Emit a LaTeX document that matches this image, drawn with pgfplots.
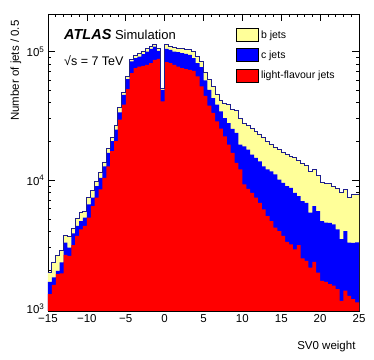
\documentclass[border=0pt]{standalone}
\usepackage{fontspec}
\setmainfont{Liberation Sans}
\usepackage{pgfplots}
\usepackage{pgfplotstable}
\pgfplotsset{compat=1.18}

\definecolor{byellow}{RGB}{255,255,153}
\definecolor{cblue}{RGB}{0,0,255}
\definecolor{lred}{RGB}{255,0,0}
\definecolor{outl}{RGB}{30,30,140}

% cumulative stack: light, light+c, light+c+b (last row repeats the last bin)
\pgfplotstableread{
x     light  lc     total
-15.0 1300   1620   1910
-14.5 1530   1750   2290
-14.0 1860   1970   2580
-13.5 1880   2290   2820
-13.0 2620   3270   3680
-12.5 2580   2990   3660
-12.0 3120   3860   4220
-11.5 3680   4400   5010
-11.0 4150   4810   5580
-10.5 4400   5110   5750
-10.0 5110   6480   7300
-9.5  6290   7300   8320
-9.0  7300   8980   9820
-8.5  8470   10400  11400
-8.0  10400  12800  13800
-7.5  12800  16300  17500
-7.0  16800  20100  21300
-6.5  20100  24700  26700
-6.0  29500  33700  36400
-5.5  38600  46100  48400
-5.0  51000  61000  64000
-4.5  67900  83700  86200
-4.0  74300  88800  93100
-3.5  76500  91500  95900
-3.0  77400  95300  100000
-2.5  78800  100000 104900
-2.0  81200  104900 109300
-1.5  86200  109300 114000
-1.0  87700  101200 106100
-0.5  41000  50400  52000
0.0   82700  104900 112600
0.5   81200  103000 109300
1.0   78800  100000 107400
1.5   76500  98800  106100
2.0   74300  97100  104900
2.5   72900  95900  104500
3.0   72100  94200  103000
3.5   70800  88800  100000
4.0   64000  81200  91500
4.5   53500  75600  83700
5.0   45300  59600  69100
5.5   37900  50400  60300
6.0   33300  43500  53500
6.5   28700  38600  46700
7.0   25100  34300  41500
7.5   21900  30400  39800
8.0   18900  27800  38600
8.5   16300  25000  35300
9.0   13600  23300  34900
9.5   12100  18900  29900
10.0  9260   18300  27800
10.5  8570   17300  26700
11.0  7970   15800  25000
11.5  7300   14900  24000
12.0  6670   14000  22600
12.5  5920   12800  21300
13.0  5260   12100  20100
13.5  4810   11700  18900
14.0  4270   11100  18000
14.5  4020   10100  17300
15.0  3680   9530   16500
15.5  3310   8980   15800
16.0  3170   8720   15300
16.5  2900   7970   14900
17.0  3120   7520   14300
17.5  2460   6880   13500
18.0  2360   6670   13000
18.5  2090   5580   11700
19.0  2310   6290   12100
19.5  1910   5750   10900
20.0  1650   4810   9530
20.5  1620   4670   9420
21.0  1550   4650   9400
21.5  1510   4530   8980
22.0  1420   4150   8570
22.5  1150   3470   7970
23.0  1380   4020   8470
23.5  1260   3270   7300
24.0  1190   3250   7740
24.5  1120   3280   7700
25.0  1120   3280   7700
}\svzero

\begin{document}
\begin{tikzpicture}
\useasboundingbox (-48pt,-48pt) rectangle (326pt,311pt);
\begin{axis}[
    name=ax, at={(0,0)}, anchor=south west,
    scale only axis, width=311pt, height=297pt,
    xmin=-15, xmax=25,
    ymode=log, ymin=960, ymax=1.96e5,
    xtick={-15,-10,-5,0,5,10,15,20,25},
    xticklabels={−15,−10,−5,0,5,10,15,20,25},
    minor x tick num=4,
    ytick={1000,10000,100000},
    yticklabels={10\textsuperscript{3},10\textsuperscript{4},10\textsuperscript{5}},
    minor ytick={2000,3000,4000,5000,6000,7000,8000,9000,20000,30000,40000,50000,60000,70000,80000,90000},
    tick align=inside,
    major tick length=7pt, minor tick length=3.5pt,
    every tick/.style={black, line width=0.6pt},
    axis line style={line width=0.8pt},
    ticklabel style={font=\fontsize{11.5}{13}\selectfont},
    xlabel={SV0 weight},
    ylabel={Number of jets / 0.5},
    label style={font=\fontsize{11.5}{13}\selectfont},
    xlabel style={at={(axis description cs:1,-0.118)}, anchor=east},
    ylabel style={at={(axis description cs:-0.103,0.99)}, anchor=east},
    legend image code/.code={\draw[#1, line width=0.8pt] (0pt,-6.5pt) rectangle (22pt,6.5pt);},
    legend style={at={(axis description cs:0.6045,0.953)}, anchor=north west,
        draw=none, fill=none, inner sep=0pt,
        font=\fontsize{10.5}{12}\selectfont, row sep=6.5pt,
        cells={anchor=west}},
]
\addplot[const plot, fill=byellow, draw=none, forget plot] table[x=x, y=total] {\svzero} \closedcycle;
\addplot[const plot, fill=cblue, draw=none, forget plot] table[x=x, y=lc] {\svzero} \closedcycle;
\addplot[const plot, fill=lred, draw=none, forget plot] table[x=x, y=light] {\svzero} \closedcycle;
\addplot[const plot, draw=outl, line width=1pt, forget plot] table[x=x, y=total] {\svzero};

\addlegendimage{fill=byellow, draw=black}
\addlegendentry{b jets}
\addlegendimage{fill=cblue, draw=black}
\addlegendentry{c jets}
\addlegendimage{fill=lred, draw=black}
\addlegendentry{light-flavour jets}
\end{axis}
\node[anchor=west, inner sep=0pt] at (16pt,276pt) {{\fontsize{14.5}{16}\selectfont\textbf{\textit{ATLAS}}}\fontsize{13}{15}\selectfont\ Simulation};
\node[anchor=west, font=\fontsize{12.5}{15}\selectfont, inner sep=0pt] at (16pt,250pt) {√s = 7 TeV};
\end{tikzpicture}
\end{document}
